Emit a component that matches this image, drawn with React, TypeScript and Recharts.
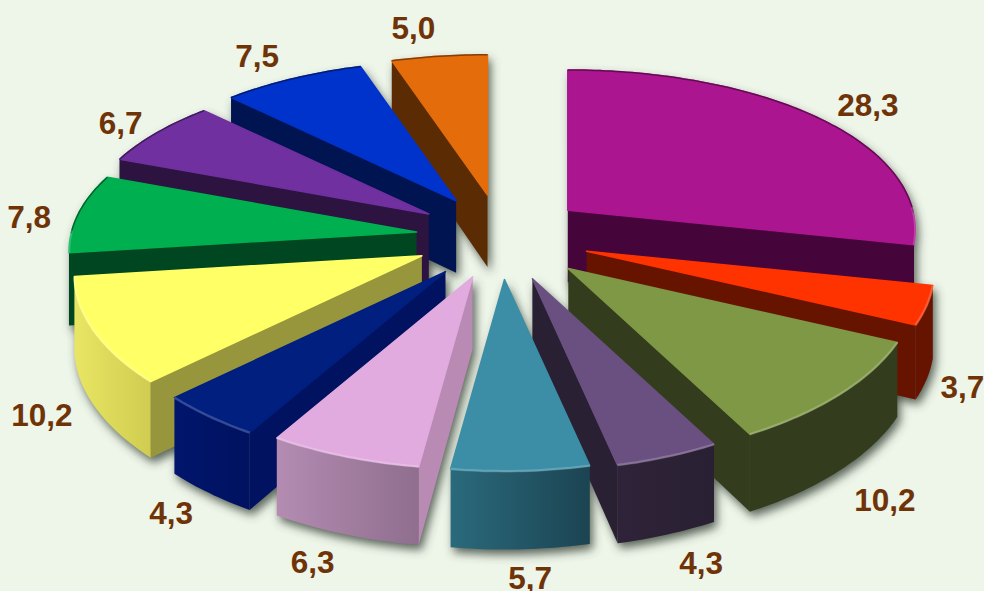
import React from "react";
import { Pie, PieChart } from "recharts";

const names = ["a", "b", "c", "d", "e", "f", "g", "h", "i", "j", "k", "l"];
const values = [28.3, 3.7, 10.2, 4.3, 5.7, 6.3, 4.3, 10.2, 7.8, 6.7, 7.5, 5.0];

const topColors = ["#AC1590", "#FF3300", "#7F9845", "#6A5080", "#3B8EA5", "#E2ABDF", "#001F7F", "#FFFF66", "#00B050", "#7030A0", "#0033CC", "#E46C0A"];
const sideColors = ["#46053A", "#661400", "#333C1C", "#2A2033", "#1C4452", "#B98AB3", "#001260", "#98963D", "#004620", "#2D1340", "#001452", "#5B2B04"];
const arcLeft = ["#46053A", "#661400", "#333C1C", "#2E2338", "#2A6A7C", "#B48CB2", "#00156C", "#E9E664", "#004620", "#2D1340", "#001452", "#5B2B04"];
const arcRight = ["#46053A", "#661400", "#333C1C", "#2A2033", "#1C4452", "#8F6E8E", "#001260", "#CFCC50", "#004620", "#2D1340", "#001452", "#5B2B04"];

// how far each slice is pulled out of the pie
const explodeScale = [1, 1.05, 1.08, 1.05, 1, 1, 1.04, 1.02, 0.99, 1, 1, 1];
// back to front
const paintOrder = [11, 0, 10, 9, 8, 1, 7, 2, 6, 3, 5, 4];
// label nudges after the radial placement
const labelDx = [19, -14, 2, 12, 7, -11, -1, -3, -3, -1, -15, -20];
const labelDy = [-1, 30, 43, 33, 31, 32, 30, 30, 7, 1, -8, -12];

const tableData = values.map((value, i) => ({ name: names[i], value, idx: i }));

const TILT = 162 / 345;
const PERSP_Y = 0.155;
const PERSP_X = 0.12;
const EXPLODE_X = 86;
const EXPLODE_Y = 42.5;
const DEPTH = 72;
const rad = (d: number) => (d * Math.PI) / 180;

function geometry(props: any) {
  const a0 = 90 - props.startAngle;
  const a1 = 90 - props.endAngle;
  const mid = (a0 + a1) / 2;
  const r = props.outerRadius;
  const idx = props.idx ?? props.payload?.idx;
  const ax = props.cx + explodeScale[idx] * EXPLODE_X * Math.sin(rad(mid));
  const ay = props.cy - explodeScale[idx] * EXPLODE_Y * Math.cos(rad(mid));
  const at = (deg: number, reach = 1) => {
    const u = reach * Math.sin(rad(deg));
    const v = reach * Math.cos(rad(deg));
    const p = 1 / (1 + PERSP_Y * v);
    const px = 1 / (1 + PERSP_X * v);
    return [ax + r * u * px, ay - r * TILT * v * p, DEPTH * Math.sqrt(p)];
  };
  const arc: number[][] = [];
  const steps = Math.max(6, Math.ceil(a1 - a0));
  for (let s = 0; s <= steps; s++) arc.push(at(a0 + ((a1 - a0) * s) / steps));
  const arcAngles = arc.map((_, s) => a0 + ((a1 - a0) * s) / steps);
  return { a0, a1, mid, ax, ay, at, arc, arcAngles };
}

const pts = (list: number[][]) => list.map((p) => `${p[0].toFixed(1)},${p[1].toFixed(1)}`).join(" ");
const drop = (list: number[][]) => list.map((p) => [p[0], p[1] + (p[2] ?? DEPTH)]);

function silhouette(props: any) {
  const { ax, ay, arc } = geometry(props);
  const apex = [ax, ay, DEPTH];
  const top = [apex, ...arc];
  const last = arc[arc.length - 1];
  return (
    <g>
      <polygon points={pts(top)} />
      <polygon points={pts(drop(top))} />
      <polygon points={pts([...arc, ...drop(arc).reverse()])} />
      <polygon points={pts([apex, arc[0], ...drop([arc[0]]), ...drop([apex])])} />
      <polygon points={pts([apex, last, ...drop([last]), ...drop([apex])])} />
    </g>
  );
}

const ShadowShape = (props: any) => (
  <g fill="#3c4a3c" fillOpacity={0.6} filter="url(#softShadow)" transform="translate(3,5)">
    {silhouette(props)}
  </g>
);

function sliceShape(target: number) {
  return (props: any) => {
    const idx = props.idx ?? props.payload?.idx;
    if (idx !== target) return <g />;
    const { a0, a1, ax, ay, arc, arcAngles } = geometry(props);
    const apex = [ax, ay, DEPTH];
    const first = arc[0];
    const last = arc[arc.length - 1];
    const side = sideColors[idx];
    const frontArc = arc.filter((_, s) => Math.cos(rad(arcAngles[s])) < 0.02);
    const backArc = arc.filter((_, s) => Math.cos(rad(arcAngles[s])) >= -0.02);
    return (
      <g>
        <polygon points={pts([...arc, ...drop(arc).reverse()])} fill={`url(#arcFill${idx})`} />
        {Math.cos(rad(a0 - 90)) < 0 && (
          <polygon points={pts([apex, first, ...drop([first]), ...drop([apex])])} fill={side} />
        )}
        {Math.cos(rad(a1 + 90)) < 0 && (
          <polygon points={pts([apex, last, ...drop([last]), ...drop([apex])])} fill={side} />
        )}
        <polygon
          points={pts([apex, ...arc])}
          fill={topColors[idx]}
          stroke={topColors[idx]}
          strokeWidth={1.5}
          strokeLinejoin="round"
        />
        {backArc.length > 1 && (
          <polyline points={pts(backArc)} fill="none" stroke={side} strokeOpacity={0.7} strokeWidth={1.5} />
        )}
        {frontArc.length > 1 && (
          <polyline points={pts(frontArc)} fill="none" stroke="#fff" strokeOpacity={0.2} strokeWidth={2.5} />
        )}
      </g>
    );
  };
}

const LabelShape = (props: any) => {
  const idx = props.idx ?? props.payload?.idx;
  const { mid, at } = geometry(props);
  const p = at(mid, 1.14);
  const lift = Math.cos(rad(mid)) < 0 ? DEPTH * 0.6 : 0;
  return (
    <text
      x={p[0] + labelDx[idx]}
      y={p[1] + lift + labelDy[idx]}
      textAnchor="middle"
      dominantBaseline="central"
      fontFamily="Liberation Sans"
      fontWeight={700}
      fontSize={31.5}
      fill="#6F3308"
    >
      {values[idx].toFixed(1).replace(".", ",")}
    </text>
  );
};

const pieProps = {
  data: tableData,
  dataKey: "value",
  nameKey: "name",
  cx: 501,
  cy: 237,
  innerRadius: 0,
  outerRadius: 345,
  startAngle: 90,
  endAngle: -270,
  stroke: "none",
  isAnimationActive: false,
  labelLine: false,
  rootTabIndex: -1,
};

export default function App() {
  return (
    <div style={{ position: "absolute", left: 0, top: 0, width: 984, height: 591, background: "#EEF5E9", overflow: "hidden" }}>
      <PieChart width={984} height={591} margin={{ top: 0, right: 0, bottom: 0, left: 0 }}>
        <defs>
          <filter id="softShadow" x="-20%" y="-20%" width="140%" height="140%">
            <feGaussianBlur stdDeviation="5" />
          </filter>
          {values.map((_, i) => (
            <linearGradient key={i} id={`arcFill${i}`} x1="0" y1="0" x2="1" y2="0">
              <stop offset="0%" stopColor={arcLeft[i]} />
              <stop offset="100%" stopColor={arcRight[i]} />
            </linearGradient>
          ))}
        </defs>
        <Pie {...pieProps} shape={ShadowShape} />
        {paintOrder.map((i) => (
          <Pie key={i} {...pieProps} shape={sliceShape(i)} />
        ))}
        <Pie {...pieProps} shape={LabelShape} />
      </PieChart>
    </div>
  );
}
